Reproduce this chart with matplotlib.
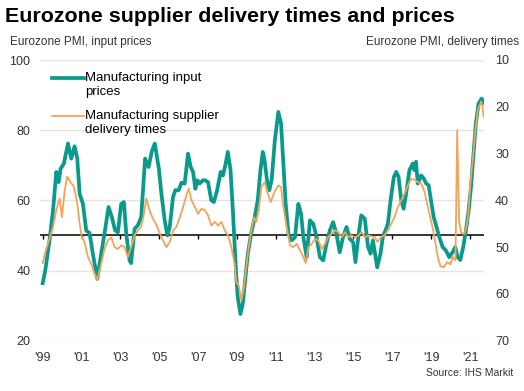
import matplotlib
matplotlib.use('Agg')
import matplotlib.pyplot as plt
from matplotlib.offsetbox import HPacker

# Eurozone manufacturing PMI, input prices (left axis)
price_years = [1999.0, 1999.13, 1999.35, 1999.53, 1999.7, 1999.82, 1999.92, 2000.09, 2000.3, 2000.47,
               2000.64, 2000.78, 2000.9, 2001.07, 2001.24, 2001.41, 2001.58, 2001.81, 2002.01, 2002.18,
               2002.39, 2002.56, 2002.73, 2002.87, 2003.04, 2003.18, 2003.3, 2003.47, 2003.55, 2003.73,
               2003.9, 2004.07, 2004.27, 2004.45, 2004.62, 2004.77, 2004.98, 2005.11, 2005.28, 2005.42,
               2005.54, 2005.71, 2005.83, 2006.0, 2006.14, 2006.31, 2006.48, 2006.62, 2006.74, 2006.86,
               2006.96, 2007.08, 2007.25, 2007.37, 2007.51, 2007.68, 2007.81, 2007.98, 2008.16, 2008.28,
               2008.4, 2008.53, 2008.67, 2008.79, 2008.87, 2008.96, 2009.04, 2009.18, 2009.3, 2009.42,
               2009.56, 2009.73, 2009.9, 2010.07, 2010.21, 2010.33, 2010.41, 2010.55, 2010.67, 2010.79,
               2010.95, 2011.13, 2011.27, 2011.39, 2011.51, 2011.65, 2011.82, 2011.99, 2012.16, 2012.3,
               2012.42, 2012.59, 2012.76, 2012.93, 2013.1, 2013.27, 2013.44, 2013.61, 2013.78, 2013.95,
               2014.12, 2014.29, 2014.46, 2014.64, 2014.81, 2014.98, 2015.1, 2015.27, 2015.4, 2015.58,
               2015.75, 2015.88, 2016.0, 2016.22, 2016.39, 2016.51, 2016.68, 2016.77, 2016.91, 2017.08,
               2017.2, 2017.32, 2017.46, 2017.58, 2017.71, 2017.88, 2018.05, 2018.14, 2018.22, 2018.31,
               2018.48, 2018.62, 2018.74, 2018.87, 2018.99, 2019.13, 2019.25, 2019.42, 2019.59, 2019.76,
               2019.93, 2020.1, 2020.24, 2020.36, 2020.5, 2020.65, 2020.79, 2020.91, 2021.05, 2021.18,
               2021.3, 2021.44, 2021.6, 2021.7]
price_pmi = [36.4, 40.0, 48.6, 57.1, 68.1, 65.2, 69.0, 70.5, 76.2, 71.9,
             75.4, 71.9, 61.9, 59.0, 51.4, 50.7, 44.8, 37.6, 44.8, 50.5,
             58.1, 55.2, 51.4, 50.9, 59.0, 59.5, 50.5, 42.9, 42.1, 51.9,
             52.9, 55.2, 71.9, 69.5, 74.0, 76.2, 69.0, 61.9, 54.3, 50.0,
             52.4, 61.0, 62.9, 62.9, 65.0, 64.8, 73.3, 69.5, 68.1, 63.3,
             65.7, 64.8, 65.7, 65.7, 65.2, 60.0, 59.5, 62.9, 68.1, 67.1,
             70.0, 73.8, 68.6, 57.1, 48.6, 39.0, 32.4, 27.6, 30.5, 37.1,
             44.8, 50.5, 54.8, 60.0, 68.6, 73.8, 71.9, 65.7, 62.9, 66.0,
             77.0, 85.2, 81.9, 70.5, 59.0, 50.5, 48.6, 49.5, 59.0, 56.2,
             49.5, 43.8, 54.3, 53.3, 49.5, 43.8, 42.9, 47.6, 51.4, 53.8,
             50.5, 45.2, 49.5, 52.4, 49.0, 48.1, 42.4, 50.5, 55.7, 54.8,
             46.7, 44.8, 48.6, 40.9, 44.8, 49.5, 51.9, 53.3, 60.0, 66.7,
             68.1, 66.7, 60.0, 57.6, 61.9, 68.6, 70.5, 68.6, 71.0, 64.8,
             67.1, 66.2, 64.8, 64.3, 60.0, 55.2, 52.9, 49.5, 46.7, 45.7,
             43.8, 45.2, 46.7, 43.8, 43.0, 46.7, 51.4, 56.2, 63.8, 73.3,
             81.9, 87.6, 89.0, 87.8]

# Eurozone manufacturing PMI, supplier delivery times (right axis, inverted)
delivery_years = [1999.0, 1999.13, 1999.35, 1999.53, 1999.7, 1999.87, 1999.99, 2000.13, 2000.26, 2000.43,
                  2000.61, 2000.78, 2000.9, 2001.02, 2001.15, 2001.33, 2001.5, 2001.67, 2001.81, 2002.01,
                  2002.18, 2002.35, 2002.53, 2002.7, 2002.87, 2003.04, 2003.21, 2003.38, 2003.55, 2003.73,
                  2003.9, 2004.07, 2004.21, 2004.33, 2004.5, 2004.67, 2004.85, 2005.11, 2005.37, 2005.54,
                  2005.71, 2005.88, 2006.06, 2006.23, 2006.4, 2006.52, 2006.66, 2006.83, 2007.0, 2007.17,
                  2007.34, 2007.51, 2007.68, 2007.86, 2008.03, 2008.2, 2008.37, 2008.54, 2008.71, 2008.88,
                  2008.97, 2009.09, 2009.23, 2009.36, 2009.54, 2009.71, 2009.88, 2010.0, 2010.12, 2010.26,
                  2010.43, 2010.56, 2010.74, 2010.93, 2011.13, 2011.27, 2011.39, 2011.56, 2011.73, 2011.9,
                  2012.08, 2012.25, 2012.42, 2012.54, 2012.68, 2012.85, 2013.02, 2013.19, 2013.36, 2013.53,
                  2013.7, 2013.88, 2014.05, 2014.22, 2014.39, 2014.56, 2014.73, 2014.9, 2015.08, 2015.25,
                  2015.42, 2015.59, 2015.76, 2015.93, 2016.1, 2016.24, 2016.41, 2016.6, 2016.77, 2016.94,
                  2017.11, 2017.29, 2017.46, 2017.63, 2017.8, 2017.97, 2018.14, 2018.31, 2018.49, 2018.66,
                  2018.79, 2018.91, 2019.09, 2019.21, 2019.34, 2019.48, 2019.65, 2019.82, 2019.99, 2020.11,
                  2020.25, 2020.34, 2020.44, 2020.55, 2020.7, 2020.8, 2020.9, 2021.02, 2021.14, 2021.26,
                  2021.4, 2021.57, 2021.64, 2021.7]
delivery_pmi = [53.4, 51.1, 48.2, 45.7, 42.1, 39.6, 43.6, 37.9, 34.9, 36.1,
                37.1, 40.7, 45.0, 47.9, 48.9, 52.1, 53.6, 55.7, 57.0, 53.6,
                50.4, 48.6, 47.9, 50.0, 50.4, 49.6, 50.0, 52.1, 50.0, 47.5,
                46.4, 45.7, 42.9, 39.6, 42.1, 43.9, 45.2, 47.9, 50.0, 48.9,
                46.4, 45.7, 43.6, 41.4, 38.9, 37.5, 40.0, 41.4, 42.9, 41.8,
                42.1, 43.2, 45.4, 44.6, 45.4, 44.6, 46.4, 47.5, 50.0, 53.6,
                57.5, 58.2, 61.4, 58.6, 52.1, 47.1, 43.6, 44.6, 42.1, 37.1,
                36.1, 38.2, 40.4, 38.2, 36.8, 37.2, 41.4, 45.7, 49.6, 50.0,
                49.3, 50.7, 52.1, 53.4, 50.0, 49.3, 48.2, 48.6, 50.4, 49.3,
                47.9, 47.1, 46.4, 46.8, 47.9, 46.8, 47.9, 47.5, 47.9, 47.5,
                46.8, 47.9, 47.5, 47.7, 47.9, 48.9, 47.9, 47.5, 46.4, 45.0,
                43.6, 41.4, 40.0, 38.6, 36.8, 35.4, 35.6, 36.1, 36.4, 38.2,
                40.7, 42.9, 46.1, 48.9, 52.1, 54.1, 54.3, 53.2, 53.7, 52.1,
                52.8, 25.0, 44.5, 47.0, 47.2, 46.0, 43.6, 36.4, 31.4, 25.7,
                20.7, 18.9, 20.0, 22.1]

tick_years = list(range(1999, 2022, 2))
tick_labels = ["'" + str(y)[2:] for y in tick_years]

plt.rcParams['font.family'] = ['Liberation Sans', 'DejaVu Sans']
TEAL = '#0a9a8c'
ORANGE = '#f5a25a'
GREY = '#333333'

fig = plt.figure(figsize=(5.24, 3.91), dpi=100)
ax = fig.add_axes([40 / 524, 1 - 340.7 / 391, 444 / 524, 280.7 / 391])
ax2 = ax.twinx()

ax.set_xlim(1998.86, 2021.72)
ax.set_ylim(20, 100)
ax2.set_ylim(70, 10)

ax.set_yticks([20, 40, 60, 80, 100])
ax2.set_yticks([10, 20, 30, 40, 50, 60, 70])
ax.set_xticks(tick_years)
ax.set_xticklabels(tick_labels)
ax.grid(axis='y', color='#e4e4e4', linewidth=1)
ax.set_axisbelow(True)

for a in (ax, ax2):
    for s in a.spines.values():
        s.set_visible(False)
ax.tick_params(axis='both', length=0, labelsize=9, colors=GREY)
ax.tick_params(axis='x', pad=8)
ax.tick_params(axis='y', pad=7)
ax2.tick_params(axis='y', length=0, labelsize=9, colors=GREY, pad=8)

# 50 line with small ticks below it
ax.axhline(50, color='black', linewidth=1.1, zorder=2)
ax.vlines(tick_years, 48.9, 50, color='black', linewidth=1, zorder=2)

l1, = ax.plot(price_years, price_pmi, color=TEAL, linewidth=2.7, zorder=3,
              solid_joinstyle='round', label='Manufacturing input\nprices')
l2, = ax2.plot(delivery_years, delivery_pmi, color=ORANGE, linewidth=1.3, zorder=3,
               label='Manufacturing supplier\ndelivery times')

leg = ax2.legend(handles=[l1, l2], loc='upper left', bbox_to_anchor=(0.027, 0.956),
                 frameon=False, fontsize=9.5, handlelength=2.4, handleheight=1.25,
                 handletextpad=0.1, labelspacing=0.93, borderaxespad=0, borderpad=0)
# put the legend line next to the first line of each label
for hp in leg.findobj(HPacker):
    hp.align = 'top'

fig.text(5 / 524, 1 - 16 / 391, 'Eurozone supplier delivery times and prices',
         fontsize=15.4, fontweight='bold', va='center', ha='left')
fig.text(10 / 524, 1 - 42 / 391, 'Eurozone PMI, input prices', fontsize=8.5,
         color=GREY, va='center', ha='left')
fig.text(519 / 524, 1 - 42 / 391, 'Eurozone PMI, delivery times', fontsize=8.5,
         color=GREY, va='center', ha='right')
fig.text(513 / 524, 1 - 373 / 391, 'Source: IHS Markit', fontsize=7.5,
         color=GREY, va='center', ha='right')

fig.savefig('out.png', dpi=100)
